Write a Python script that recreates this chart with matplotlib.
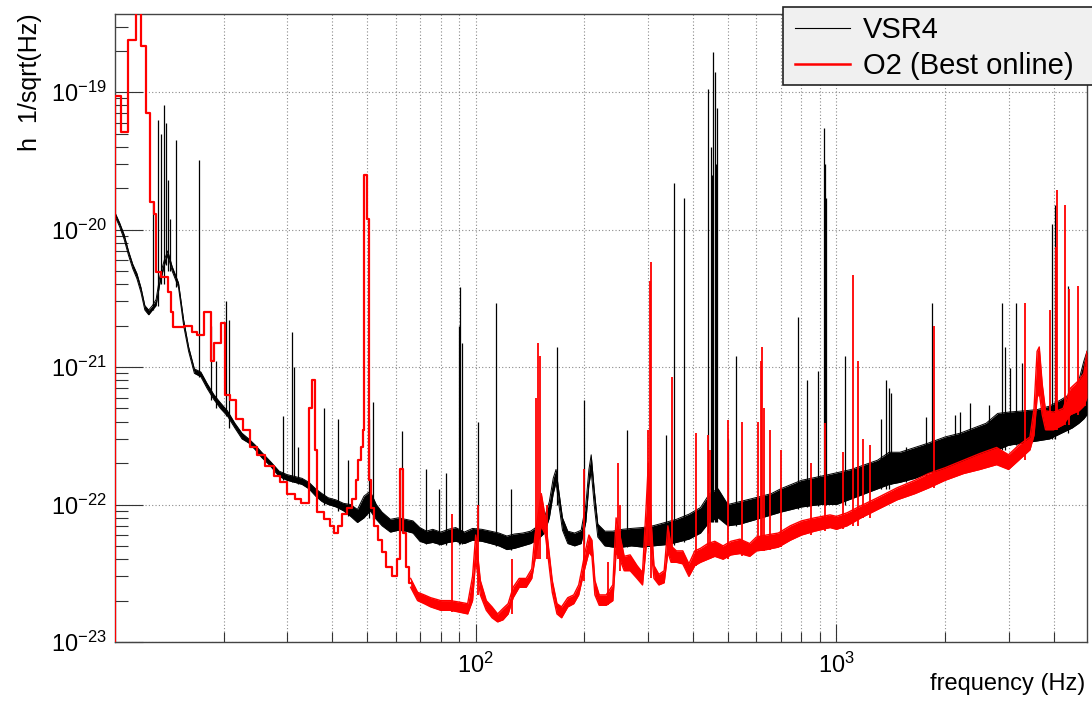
import numpy as np
import matplotlib
matplotlib.use("Agg")
import matplotlib.pyplot as plt
from matplotlib.lines import Line2D
from matplotlib.patches import Rectangle
from matplotlib.ticker import FixedLocator, NullFormatter

plt.rcParams["font.family"] = ["Liberation Sans", "DejaVu Sans"]
plt.rcParams["mathtext.fontset"] = "custom"
plt.rcParams["mathtext.rm"] = "Liberation Sans"
plt.rcParams["mathtext.it"] = "Liberation Sans:italic"

# VSR4 noise band: frequency (Hz), lower / upper edge of the noisy trace
vsr4_freq = [10.0, 10.3, 10.6, 10.9, 11.2, 11.5, 11.8, 12.1, 12.4, 12.7, 13.0, 13.3, 13.7, 14.0,
             14.4, 15.0, 15.5, 16.0, 16.6, 17.3, 18.0, 18.8, 19.6, 20.5, 21.5, 22.5, 23.5, 24.5,
             25.5, 27.0, 28.5, 30.0, 31.5, 33.0, 34.5, 36.0, 37.5, 39.0, 41.0, 43.0, 45.0, 47.0,
             49.0, 51.0, 53.0, 55.0, 58.0, 61.0, 64.0, 67.0, 70.0, 73.0, 76.0, 80.0, 84.0, 88.0,
             93.0, 98.0, 104, 110, 116, 122, 128, 135, 142, 149, 155, 160, 164, 167, 170, 174,
             180, 188, 196, 202, 206, 209, 213, 218, 228, 240, 255, 270, 290, 310, 335, 360, 390,
             420, 445, 470, 500, 540, 580, 620, 660, 700, 750, 800, 850, 900, 950, 1000, 1100,
             1200, 1300, 1400, 1500, 1650, 1800, 2000, 2200, 2400, 2600, 2800, 3000, 3300, 3600,
             3900, 4200, 4500, 4700, 4850, 4950]
vsr4_lo = [1.25e-20, 1.05e-20, 8.5e-21, 6.5e-21, 5.2e-21, 4.4e-21, 3.5e-21, 2.6e-21, 2.4e-21,
           2.6e-21, 2.8e-21, 4.0e-21, 5.5e-21, 6.5e-21, 5.0e-21, 3.8e-21, 2.0e-21, 1.3e-21,
           9.0e-22, 8.5e-22, 7.0e-22, 5.8e-22, 5.0e-22, 4.4e-22, 3.6e-22, 3.0e-22, 2.8e-22,
           2.5e-22, 2.2e-22, 1.9e-22, 1.6e-22, 1.5e-22, 1.45e-22, 1.4e-22, 1.3e-22, 1.15e-22,
           1.05e-22, 1.0e-22, 9.6e-23, 9.0e-23, 8.2e-23, 7.4e-23, 8.0e-23, 9.0e-23, 7.8e-23,
           7.0e-23, 6.3e-23, 6.5e-23, 6.4e-23, 6.2e-23, 5.4e-23, 5.2e-23, 5.3e-23, 5.1e-23,
           5.3e-23, 5.4e-23, 5.2e-23, 5.5e-23, 5.4e-23, 5.2e-23, 5.0e-23, 4.7e-23, 4.8e-23,
           5.0e-23, 5.2e-23, 5.6e-23, 6.2e-23, 8.0e-23, 1.2e-22, 1.45e-22, 1.0e-22, 6.5e-23,
           5.2e-23, 5.0e-23, 5.2e-23, 7.5e-23, 1.4e-22, 1.75e-22, 1.0e-22, 5.8e-23, 5.0e-23,
           4.9e-23, 4.9e-23, 5.0e-23, 4.9e-23, 5.0e-23, 5.1e-23, 5.3e-23, 5.6e-23, 6.2e-23,
           7.5e-23, 8.0e-23, 7.0e-23, 7.2e-23, 7.6e-23, 8.0e-23, 8.4e-23, 8.8e-23, 9.2e-23,
           9.6e-23, 9.8e-23, 1.0e-22, 1.0e-22, 1.0e-22, 1.1e-22, 1.2e-22, 1.3e-22, 1.4e-22,
           1.45e-22, 1.55e-22, 1.7e-22, 1.8e-22, 2.0e-22, 2.2e-22, 2.4e-22, 2.5e-22, 2.7e-22,
           2.8e-22, 2.9e-22, 3.0e-22, 3.3e-22, 3.6e-22, 3.9e-22, 4.2e-22, 4.5e-22]
vsr4_hi = [1.33e-20, 1.12e-20, 9.2e-21, 7.0e-21, 5.6e-21, 4.8e-21, 3.8e-21, 2.8e-21, 2.6e-21,
           2.8e-21, 3.1e-21, 4.5e-21, 6.0e-21, 7.0e-21, 5.4e-21, 4.1e-21, 2.2e-21, 1.4e-21,
           9.7e-22, 9.2e-22, 7.6e-22, 6.3e-22, 5.5e-22, 4.8e-22, 3.9e-22, 3.3e-22, 3.0e-22,
           2.7e-22, 2.4e-22, 2.05e-22, 1.75e-22, 1.65e-22, 1.6e-22, 1.55e-22, 1.45e-22, 1.3e-22,
           1.2e-22, 1.12e-22, 1.08e-22, 1.02e-22, 1.0e-22, 9.2e-23, 1.15e-22, 1.25e-22, 1.0e-22,
           8.8e-23, 7.8e-23, 8.0e-23, 7.8e-23, 7.6e-23, 6.8e-23, 6.4e-23, 6.6e-23, 6.3e-23,
           6.6e-23, 6.8e-23, 6.3e-23, 6.7e-23, 6.6e-23, 6.4e-23, 6.2e-23, 5.9e-23, 6.1e-23,
           6.2e-23, 6.4e-23, 7.0e-23, 8.0e-23, 1.05e-22, 1.55e-22, 1.8e-22, 1.25e-22, 8.0e-23,
           6.4e-23, 6.2e-23, 6.5e-23, 1.0e-22, 1.8e-22, 2.3e-22, 1.3e-22, 7.2e-23, 6.4e-23,
           6.4e-23, 6.6e-23, 6.7e-23, 6.8e-23, 7.0e-23, 7.4e-23, 7.8e-23, 8.5e-23, 9.5e-23,
           1.2e-22, 1.3e-22, 1.0e-22, 1.05e-22, 1.1e-22, 1.15e-22, 1.2e-22, 1.3e-22, 1.4e-22,
           1.5e-22, 1.55e-22, 1.6e-22, 1.65e-22, 1.7e-22, 1.8e-22, 1.95e-22, 2.1e-22, 2.4e-22,
           2.4e-22, 2.6e-22, 2.8e-22, 3.1e-22, 3.3e-22, 3.6e-22, 3.9e-22, 4.6e-22, 4.7e-22,
           4.8e-22, 4.9e-22, 5.2e-22, 5.8e-22, 6.5e-22, 8.0e-22, 1.1e-21, 1.3e-21]

# VSR4 spectral lines: frequency (Hz), peak amplitude
vsr4_line_freq = [12.75, 13.2, 13.45, 13.65, 13.85, 14.05, 14.25, 14.8, 17.1, 18.5, 19.1, 20.3,
                  20.7, 29.2, 30.9, 31.4, 32.2, 37.9, 41.5, 44.3, 50.6, 51.8, 62.3, 72.7, 79.0,
                  82.6, 89.8, 90.6, 91.6, 101.3, 113.6, 125, 168.5, 199, 263, 337, 354, 379, 441,
                  448, 452, 456, 460, 464, 468, 502, 527, 785, 830, 890, 921, 928, 937, 1055, 1330,
                  1370, 1395, 1420, 1563, 1767, 1842, 2134, 2205, 2351, 2650, 2878, 2935, 3034,
                  3140, 3262, 3956, 4036, 4390]
vsr4_line_peak = [1.6e-20, 6.3e-20, 5.0e-20, 8.0e-20, 6.0e-20, 2.3e-20, 1.2e-20, 4.5e-20, 3.2e-20,
                  2.0e-21, 1.1e-21, 3.0e-21, 2.2e-21, 4.4e-22, 1.8e-21, 1.0e-21, 2.6e-22, 5.0e-22,
                  4.2e-22, 2.1e-22, 4.2e-22, 5.6e-22, 3.4e-22, 1.8e-22, 1.3e-22, 1.7e-22, 2.0e-21,
                  3.8e-21, 1.5e-21, 4.0e-22, 2.9e-21, 1.3e-22, 1.4e-21, 5.8e-22, 3.5e-22, 3.2e-22,
                  2.2e-20, 1.7e-20, 1.05e-19, 4.0e-20, 2.5e-20, 1.95e-19, 1.4e-19, 3.0e-20, 7.7e-20,
                  3.0e-22, 1.2e-21, 2.3e-21, 8.1e-22, 9.3e-22, 5.5e-20, 3.0e-20, 1.7e-20, 1.2e-21,
                  4.2e-22, 8.0e-22, 7.0e-22, 6.5e-22, 2.6e-22, 4.3e-22, 2.9e-21, 4.5e-22, 4.7e-22,
                  5.5e-22, 5.3e-22, 2.9e-21, 1.4e-21, 9.8e-22, 2.9e-21, 1.07e-21, 1.1e-20, 1.5e-20,
                  3.9e-21]

# O2 low-frequency histogram bins: left edge (Hz), value
o2_low_freq = [10.0, 10.4, 10.9, 11.4, 11.8, 12.2, 12.5, 12.8, 13.0, 13.4, 14.0, 14.3, 14.5, 15.5,
               16.3, 16.9, 17.6, 18.4, 18.8, 19.7, 20.2, 20.9, 21.6, 22.6, 23.6, 24.8, 26.0, 27.6,
               28.6, 30.0, 31.5, 32.7, 34.4, 35.2, 35.8, 36.4, 38.0, 39.4, 40.4, 41.6, 42.6, 44.0,
               45.5, 46.6, 47.2, 48.0, 48.8, 49.1, 50.0, 50.5, 51.3, 52.2, 53.5, 55.0, 56.5, 58.5,
               60.5, 61.8, 62.8, 64.0, 65.5, 66.0]
o2_low_val = [9.3e-20, 5.1e-20, 2.4e-19, 5.0e-19, 2.15e-19, 7.0e-20, 1.6e-20, 1.3e-20, 4.9e-21,
              4.5e-21, 3.5e-21, 2.5e-21, 1.95e-21, 2.0e-21, 1.8e-21, 1.7e-21, 2.5e-21, 1.1e-21,
              1.5e-21, 2.1e-21, 6.3e-22, 5.8e-22, 4.2e-22, 3.5e-22, 2.6e-22, 2.3e-22, 1.9e-22,
              1.6e-22, 1.45e-22, 1.2e-22, 1.1e-22, 1.03e-22, 5.0e-22, 8.0e-22, 2.5e-22, 8.8e-23,
              7.8e-23, 7.0e-23, 6.2e-23, 7.0e-23, 8.5e-23, 9.5e-23, 1.1e-22, 1.5e-22, 2.1e-22,
              2.6e-22, 3.5e-22, 2.5e-20, 1.2e-20, 1.5e-22, 9.5e-23, 7.0e-23, 5.5e-23, 4.5e-23,
              3.5e-23, 3.0e-23, 4.0e-23, 1.8e-22, 6.2e-23, 3.5e-23, 2.7e-23, 2.7e-23]

# O2 noise band above 66 Hz
o2_freq = [66, 69, 72, 75, 80, 85, 90, 95, 98, 100, 103, 107, 111, 115, 119, 123, 127, 132, 138,
           143, 146, 152, 156, 159, 163, 168, 173, 180, 187, 193, 197, 201, 206, 210, 214, 220,
           230, 240, 245, 251, 258, 268, 280, 290, 297, 301, 306, 312, 322, 333, 341, 348, 360,
           375, 390, 405, 420, 440, 460, 485, 510, 540, 575, 600, 640, 690, 745, 800, 870, 960,
           1000, 1070, 1170, 1300, 1470, 1650, 1800, 2000, 2250, 2500, 2780, 3000, 3200, 3440,
           3530, 3600, 3650, 3720, 3800, 4000, 4250, 4450, 4700, 4850, 4950]
o2_lo = [2.5e-23, 2.0e-23, 1.9e-23, 1.8e-23, 1.7e-23, 1.7e-23, 1.65e-23, 1.6e-23, 2.0e-23, 4.0e-23,
         2.2e-23, 1.7e-23, 1.5e-23, 1.4e-23, 1.45e-23, 1.6e-23, 2.1e-23, 2.5e-23, 2.5e-23, 2.9e-23,
         4.0e-23, 7.0e-23, 6.0e-23, 4.0e-23, 2.3e-23, 1.6e-23, 1.5e-23, 1.8e-23, 1.9e-23, 2.2e-23,
         2.8e-23, 3.5e-23, 4.5e-23, 4.2e-23, 2.2e-23, 1.85e-23, 1.85e-23, 2.0e-23, 4.5e-23, 4.0e-23,
         3.3e-23, 3.3e-23, 2.9e-23, 2.6e-23, 5.0e-23, 8.0e-23, 5.0e-23, 2.9e-23, 2.6e-23, 2.7e-23,
         4.5e-23, 3.8e-23, 3.8e-23, 3.7e-23, 3.0e-23, 3.6e-23, 3.8e-23, 4.0e-23, 4.2e-23, 4.0e-23,
         4.3e-23, 4.4e-23, 4.2e-23, 4.6e-23, 4.7e-23, 4.9e-23, 5.5e-23, 6.0e-23, 6.4e-23, 6.8e-23,
         6.6e-23, 7.0e-23, 8.0e-23, 9.2e-23, 1.08e-22, 1.2e-22, 1.32e-22, 1.5e-22, 1.68e-22,
         1.8e-22, 1.95e-22, 1.8e-22, 2.1e-22, 2.5e-22, 3.2e-22, 6.0e-22, 6.5e-22, 4.5e-22, 3.5e-22,
         3.5e-22, 3.8e-22, 4.5e-22, 4.8e-22, 5.2e-22, 6.0e-22]
o2_hi = [2.9e-23, 2.3e-23, 2.2e-23, 2.1e-23, 2.0e-23, 2.0e-23, 1.95e-23, 1.9e-23, 3.0e-23, 6.0e-23,
         2.8e-23, 2.0e-23, 1.8e-23, 1.6e-23, 1.75e-23, 1.9e-23, 2.5e-23, 2.9e-23, 2.9e-23, 3.4e-23,
         6.0e-23, 1.2e-22, 8.0e-23, 5.0e-23, 2.8e-23, 1.9e-23, 1.8e-23, 2.1e-23, 2.2e-23, 2.6e-23,
         3.4e-23, 4.5e-23, 6.0e-23, 5.5e-23, 2.8e-23, 2.2e-23, 2.2e-23, 2.6e-23, 8.0e-23, 6.0e-23,
         4.2e-23, 4.3e-23, 3.6e-23, 3.2e-23, 1.0e-22, 2.0e-22, 8.0e-23, 3.6e-23, 3.1e-23, 3.3e-23,
         7.0e-23, 5.0e-23, 4.6e-23, 4.6e-23, 3.7e-23, 4.6e-23, 4.8e-23, 5.2e-23, 5.4e-23, 5.0e-23,
         5.4e-23, 5.6e-23, 5.2e-23, 5.8e-23, 6.0e-23, 6.2e-23, 7.0e-23, 7.6e-23, 8.0e-23, 8.4e-23,
         8.2e-23, 8.7e-23, 9.8e-23, 1.12e-22, 1.32e-22, 1.5e-22, 1.68e-22, 1.85e-22, 2.1e-22,
         2.35e-22, 2.6e-22, 2.3e-22, 2.7e-22, 3.1e-22, 5.0e-22, 1.3e-21, 1.4e-21, 7.5e-22, 4.8e-22,
         4.7e-22, 5.0e-22, 7.0e-22, 8.0e-22, 9.0e-22, 1.3e-21]

# O2 spectral lines
o2_line_freq = [85.8, 101.3, 125.8, 147.0, 148.5, 150.5, 157.5, 199, 232, 248, 252, 300, 305, 307,
                351, 407, 440, 447, 499, 549, 605, 616, 622, 630, 655, 700, 850, 930, 1040, 1110,
                1150, 1187, 1242, 1860, 3330, 3917, 4070, 4090, 4300, 4420, 4680, 4900]
o2_line_peak = [8.6e-23, 1.0e-22, 4.0e-23, 6.0e-22, 1.5e-21, 1.2e-21, 1.0e-22, 1.8e-22, 3.8e-23,
                2.0e-22, 1.0e-22, 3.5e-22, 4.2e-21, 5.8e-21, 8.4e-22, 3.3e-22, 3.2e-22, 2.5e-22,
                4.15e-22, 4.0e-22, 4.0e-22, 1.1e-21, 1.4e-21, 5.0e-22, 3.5e-22, 2.5e-22, 2.0e-22,
                3.9e-22, 2.4e-22, 4.7e-21, 1.1e-21, 3.0e-22, 2.7e-22, 2.0e-21, 2.9e-21, 2.6e-21,
                7.5e-21, 1.95e-20, 1.5e-20, 3.7e-21, 3.9e-21, 1.0e-21]

legend_labels = ["VSR4", "O2 (Best online)"]
legend_colors = ["black", "red"]

x_range = (10, 4950)
y_range = (1e-23, 3.7e-19)


def draw_band(ax, freq, lo, hi, color, lw, z):
    ax.fill_between(freq, lo, hi, color=color, lw=0, zorder=z)
    ax.plot(freq, lo, color=color, lw=lw, zorder=z)
    ax.plot(freq, hi, color=color, lw=lw, zorder=z)


def draw_lines(ax, freq, peak, band_freq, band_lo, color, lw, z):
    band_lo = np.asarray(band_lo)
    idx = np.searchsorted(band_freq, freq, side="right") - 1
    idx = np.clip(idx, 0, len(band_freq) - 2)
    base = np.minimum(band_lo[idx], band_lo[idx + 1])
    ax.vlines(freq, base, peak, color=color, lw=lw, zorder=z)


fig = plt.figure(figsize=(10.92, 7.01), dpi=100)
ax = fig.add_axes([0.1053, 0.0842, 0.8901, 0.8958])
ax.set_xscale("log")
ax.set_yscale("log")

# VSR4 (black)
draw_band(ax, vsr4_freq, vsr4_lo, vsr4_hi, "black", 0.7, 3)
draw_lines(ax, vsr4_line_freq, vsr4_line_peak, vsr4_freq, vsr4_lo, "black", 0.9, 3)

# O2 (red)
ax.vlines(o2_low_freq[0], y_range[0], o2_low_val[0], color="red", lw=1.6, zorder=4)
ax.step(o2_low_freq, o2_low_val, where="post", color="red", lw=1.6, zorder=4)
draw_band(ax, o2_freq, o2_lo, o2_hi, "red", 1.0, 4)
draw_lines(ax, o2_line_freq, o2_line_peak, o2_freq, o2_lo, "red", 1.3, 4)

ax.set_xlim(*x_range)
ax.set_ylim(*y_range)

ax.xaxis.set_major_locator(FixedLocator([100, 1000]))
ax.xaxis.set_minor_locator(FixedLocator([20, 30, 40, 50, 60, 70, 80, 90,
                                         200, 300, 400, 500, 600, 700, 800, 900,
                                         2000, 3000, 4000]))
ax.xaxis.set_minor_formatter(NullFormatter())
ax.yaxis.set_major_locator(FixedLocator([1e-23, 1e-22, 1e-21, 1e-20, 1e-19]))
ax.yaxis.set_minor_locator(FixedLocator([m * 10.0 ** e for e in range(-23, -18) for m in range(2, 10)]))
ax.yaxis.set_minor_formatter(NullFormatter())

ax.grid(which="major", axis="both", ls=(0, (1, 2)), color="#8a8a8a", lw=0.8, zorder=1)
ax.grid(which="minor", axis="x", ls=(0, (1, 2)), color="#8a8a8a", lw=0.8, zorder=1)

ax.tick_params(which="both", direction="in", top=False, right=False, colors="#333333")
ax.tick_params(axis="x", which="major", length=13, width=0.8, pad=8, labelsize=17, labelcolor="black")
ax.tick_params(axis="x", which="minor", length=7, width=0.8)
ax.tick_params(axis="y", which="major", length=20, width=0.8, pad=6, labelsize=17, labelcolor="black")
ax.tick_params(axis="y", which="minor", length=9.5, width=0.8)

for side in ["top", "right", "bottom", "left"]:
    ax.spines[side].set_color("#444444")
    ax.spines[side].set_linewidth(1.0)

fig.text(30 / 1092, 1 - 13 / 701, "h  1/sqrt(Hz)", rotation=90, ha="center", va="top", fontsize=18)
fig.text(1085 / 1092, 1 - 690 / 701, "frequency (Hz)", ha="right", va="baseline", fontsize=17)

# legend box in ROOT style, running off the right edge
fig.add_artist(Rectangle((783 / 1092, 1 - 85 / 701), 330 / 1092, 78 / 701,
                         transform=fig.transFigure, facecolor="#f0f0f0",
                         edgecolor="#222222", lw=1.2, zorder=10))
for i, (label, color) in enumerate(zip(legend_labels, legend_colors)):
    yc = 1 - (28 + 36 * i) / 701
    fig.add_artist(Line2D([795 / 1092, 850 / 1092], [yc, yc], transform=fig.transFigure,
                          color=color, lw=0.8 if color == "black" else 1.8, zorder=11))
    fig.text(863 / 1092, 1 - (38 + 36 * i) / 701, label, fontsize=21, ha="left",
             va="baseline", zorder=11)

fig.savefig("out.png", dpi=100)
